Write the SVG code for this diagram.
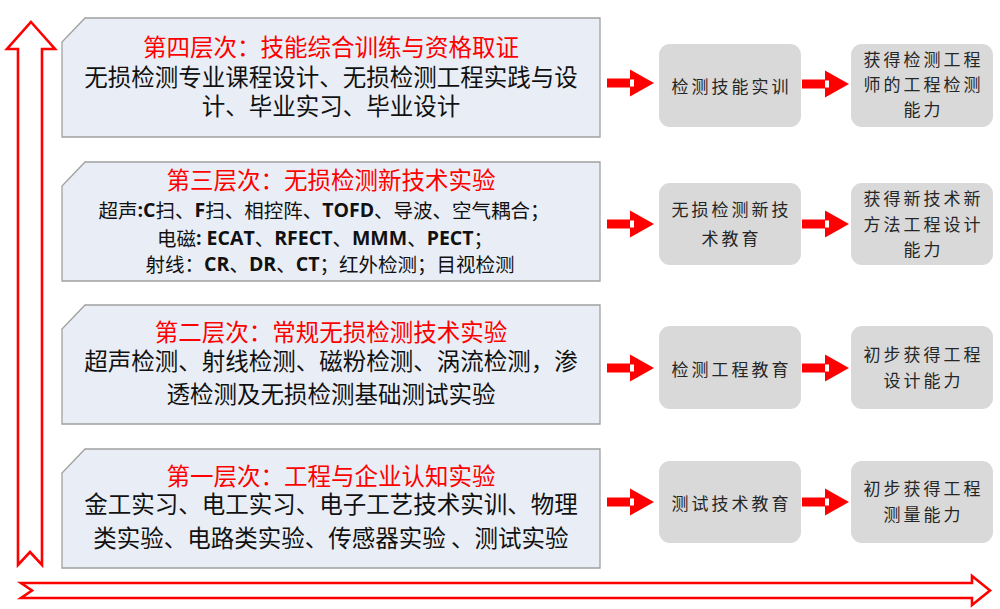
<svg xmlns="http://www.w3.org/2000/svg" xmlns:xlink="http://www.w3.org/1999/xlink" width="1000" height="609" viewBox="0 0 1000 609">
<style>
.lvl{fill:#E9EEF6;stroke:#A0A0A0;stroke-width:1.3}
.gb{fill:#D9D9D9}
.big{fill:#FFFFFF;stroke:#FF0000;stroke-width:2.6;stroke-linejoin:miter}
.t{font-family:"Noto Sans CJK SC","Noto Sans",sans-serif;text-anchor:middle;dominant-baseline:central}
.title{font-size:23.5px;fill:#FF0000}
.body{font-size:23.5px;fill:#111111}
.small{font-size:19.5px;fill:#111111}
.lat{font-family:"Open Sans","Noto Sans",sans-serif;font-weight:bold}
.g{font-family:"Noto Sans CJK SC",sans-serif;font-size:17px;fill:#262626;text-anchor:middle;dominant-baseline:central;letter-spacing:3px;font-weight:normal}
</style>
<defs>
<g id="sa">
<rect x="0" y="-4.5" width="24" height="9" fill="#FF0000"/>
<polygon points="23,-13.5 47,0 23,13.5" fill="#FF0000"/>
<rect x="23" y="-3.5" width="4" height="7" fill="#FFFFFF"/>
</g>
</defs>
<g id="axes">
<path class="big" d="M31,22 L55,49 L42,49 L42,565 L30,552 L18,565 L18,49 L7,49 Z"/>
<path class="big" d="M21,583 L972,583 L972,576 L990,590.5 L972,605 L972,598 L21,598 L32,590.5 Z"/>
</g>
<g id="level4">
<path class="lvl" d="M85,18 L600,18 L600,137 L62,137 L62,42 Z"/>
<text class="t title" x="331" y="46">第四层次：技能综合训练与资格取证</text>
<text class="t body" x="331" y="76">无损检测专业课程设计、无损检测工程实践与设</text>
<text class="t body" x="331" y="105">计、毕业实习、毕业设计</text>
</g>
<g id="level3">
<path class="lvl" d="M85,162 L600,162 L600,281 L62,281 L62,186 Z"/>
<text class="t title" x="331" y="179">第三层次：无损检测新技术实验</text>
<text class="t small" x="324" y="209">超声<tspan class="lat">:C</tspan>扫、<tspan class="lat">F</tspan>扫、相控阵、<tspan class="lat">TOFD</tspan>、导波、空气耦合；</text>
<text class="t small" x="325" y="237">电磁<tspan class="lat">: ECAT</tspan>、<tspan class="lat">RFECT</tspan>、<tspan class="lat">MMM</tspan>、<tspan class="lat">PECT</tspan>；</text>
<text class="t small" x="330" y="263">射线：<tspan class="lat">CR</tspan>、<tspan class="lat">DR</tspan>、<tspan class="lat">CT</tspan>；红外检测；目视检测</text>
</g>
<g id="level2">
<path class="lvl" d="M85,305 L600,305 L600,424 L62,424 L62,329 Z"/>
<text class="t title" x="331" y="331">第二层次：常规无损检测技术实验</text>
<text class="t body" x="331" y="360">超声检测、射线检测、磁粉检测、涡流检测，渗</text>
<text class="t body" x="331" y="393">透检测及无损检测基础测试实验</text>
</g>
<g id="level1">
<path class="lvl" d="M85,449 L600,449 L600,568 L62,568 L62,473 Z"/>
<text class="t title" x="331" y="475">第一层次：工程与企业认知实验</text>
<text class="t body" x="331" y="503">金工实习、电工实习、电子工艺技术实训、物理</text>
<text class="t body" x="331" y="537">类实验、电路类实验、传感器实验 、测试实验</text>
</g>
<g id="edu1">
<rect class="gb" x="659" y="44" width="142" height="83" rx="11"/>
<text class="g" x="731.5" y="85">检测技能实训</text>
</g>
<g id="ability1">
<rect class="gb" x="851" y="44" width="142" height="83" rx="11"/>
<text class="g" x="923.5" y="58">获得检测工程</text>
<text class="g" x="923.5" y="83">师的工程检测</text>
<text class="g" x="923.5" y="108">能力</text>
</g>
<g id="edu2">
<rect class="gb" x="659" y="183" width="142" height="82" rx="11"/>
<text class="g" x="731.5" y="208">无损检测新技</text>
<text class="g" x="731.5" y="237">术教育</text>
</g>
<g id="ability2">
<rect class="gb" x="851" y="183" width="142" height="82" rx="11"/>
<text class="g" x="923.5" y="197">获得新技术新</text>
<text class="g" x="923.5" y="223">方法工程设计</text>
<text class="g" x="923.5" y="248">能力</text>
</g>
<g id="edu3">
<rect class="gb" x="659" y="326" width="142" height="83" rx="11"/>
<text class="g" x="731.5" y="368">检测工程教育</text>
</g>
<g id="ability3">
<rect class="gb" x="851" y="326" width="142" height="83" rx="11"/>
<text class="g" x="923.5" y="353">初步获得工程</text>
<text class="g" x="923.5" y="379">设计能力</text>
</g>
<g id="edu4">
<rect class="gb" x="659" y="461" width="142" height="82" rx="11"/>
<text class="g" x="731.5" y="502">测试技术教育</text>
</g>
<g id="ability4">
<rect class="gb" x="851" y="461" width="142" height="82" rx="11"/>
<text class="g" x="923.5" y="487">初步获得工程</text>
<text class="g" x="923.5" y="513">测量能力</text>
</g>
<g id="connectors">
<use xlink:href="#sa" href="#sa" x="607" y="83"/>
<use xlink:href="#sa" href="#sa" x="802" y="84"/>
<use xlink:href="#sa" href="#sa" x="607" y="224"/>
<use xlink:href="#sa" href="#sa" x="802" y="224"/>
<use xlink:href="#sa" href="#sa" x="607" y="368"/>
<use xlink:href="#sa" href="#sa" x="802" y="368"/>
<use xlink:href="#sa" href="#sa" x="607" y="502"/>
<use xlink:href="#sa" href="#sa" x="802" y="502"/>
</g>
</svg>
